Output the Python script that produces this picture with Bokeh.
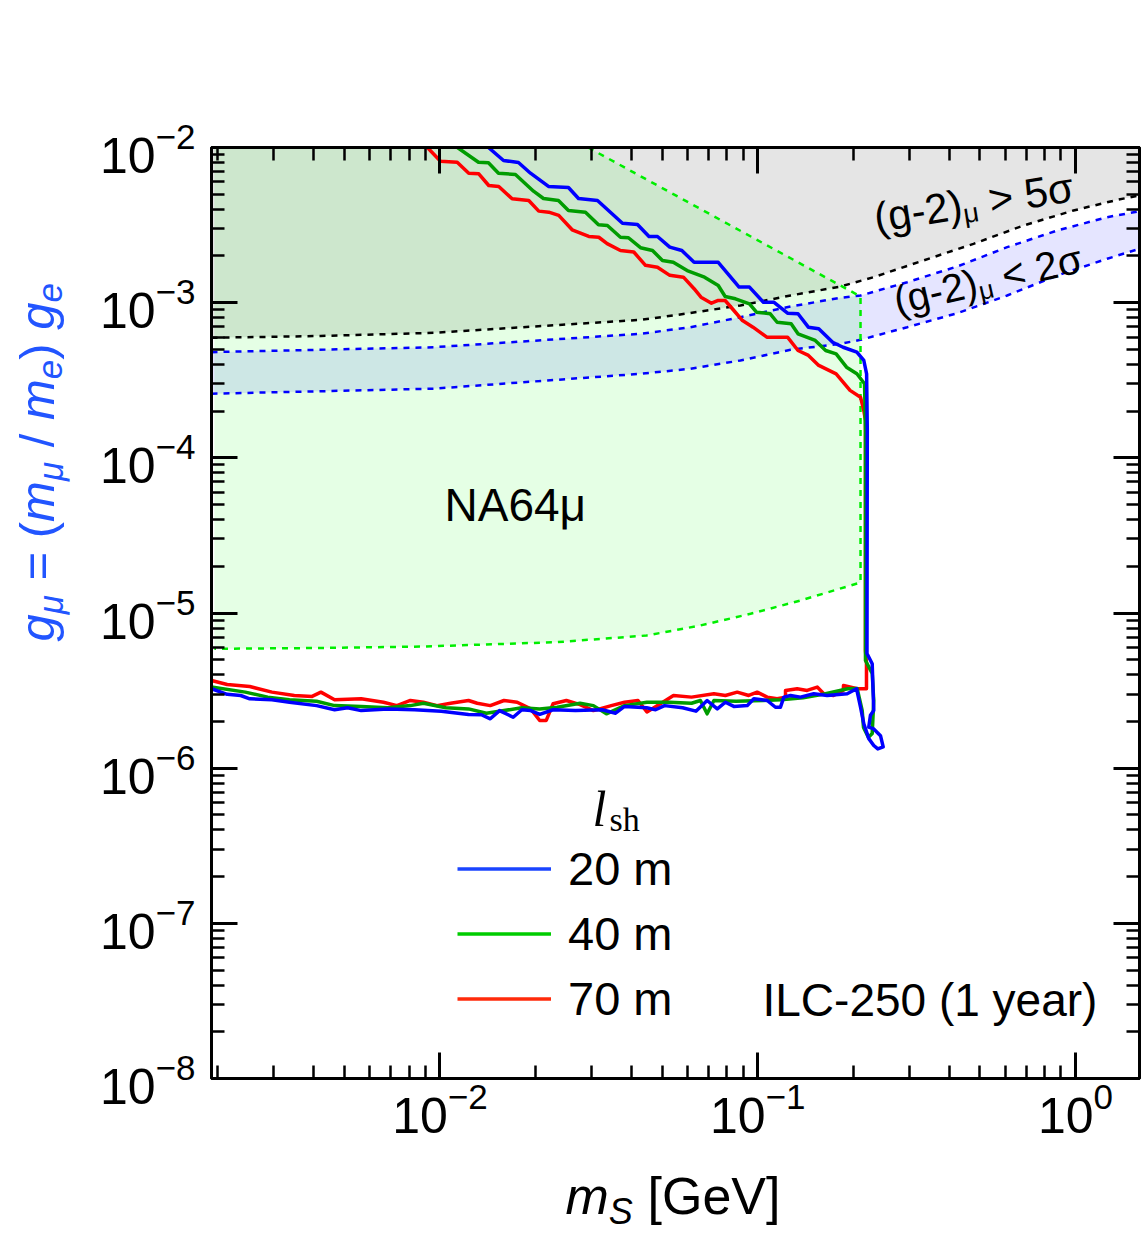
import math
from bokeh.plotting import figure
from bokeh.layouts import column, row
from bokeh.models import (Range1d, FixedTicker, LogAxis, LogTickFormatter,
                          CustomJSTickFormatter, Label, Legend, LegendItem)
from bokeh.embed import file_html
from bokeh.resources import INLINE

# ---------------- data ----------------
X_RANGE = (1.91e-3, 1.59)
Y_RANGE = (1e-8, 1e-2)
X_MAJOR = [1e-2, 1e-1, 1e0]
Y_MAJOR = [1e-8, 1e-7, 1e-6, 1e-5, 1e-4, 1e-3, 1e-2]
X_MINOR = [k * 10.0 ** e for e in (-3, -2, -1, 0) for k in range(2, 10)]
Y_MINOR = [k * 10.0 ** e for e in range(-9, -2) for k in range(2, 10)]

# (g-2)_mu > 5 sigma boundary
G2_5SIGMA_M = [1.91e-3, 4.21e-3, 9.54e-3, 4.28e-2, 5.43e-2, 8.82e-2, 0.1268, 0.1822,
               0.2313, 0.3323, 0.4775, 0.6863, 0.9856, 1.356, 1.59]
G2_5SIGMA_G = [5.94e-4, 6.10e-4, 6.39e-4, 7.75e-4, 8.27e-4, 9.59e-4, 1.112e-3, 1.271e-3,
               1.459e-3, 1.870e-3, 2.395e-3, 3.143e-3, 3.926e-3, 4.603e-3, 4.906e-3]

# (g-2)_mu < 2 sigma band
BAND_M = [1.91e-3, 9.54e-3, 4.28e-2, 6.14e-2, 8.82e-2, 0.1268, 0.1822, 0.2106,
          0.2954, 0.4243, 0.6095, 0.8757, 1.258, 1.59]
BAND_HI_G = [4.80e-4, 5.16e-4, 6.30e-4, 6.95e-4, 8.06e-4, 9.45e-4, 1.075e-3, 1.112e-3,
             1.355e-3, 1.710e-3, 2.278e-3, 2.918e-3, 3.555e-3, 3.885e-3]
BAND_LO_G = [2.59e-4, 2.79e-4, 3.48e-4, 3.75e-4, 4.24e-4, 4.97e-4, 5.43e-4, 5.76e-4,
             6.95e-4, 8.55e-4, 1.112e-3, 1.497e-3, 1.918e-3, 2.225e-3]

# NA64mu excluded region
NA64_M = [1.95e-3, 2.925e-2, 0.2106, 0.2106, 0.1363, 9.49e-2, 6.60e-2, 4.47e-2,
          2.34e-2, 8.87e-3, 4.21e-3, 1.95e-3]
NA64_G = [1e-2, 1e-2, 1.096e-3, 1.573e-5, 1.204e-5, 9.88e-6, 8.31e-6, 7.16e-6,
          6.49e-6, 6.08e-6, 5.95e-6, 5.88e-6]

# ILC-250 sensitivity contours, (m_S [GeV], g_mu)
BLUE_20M = [
    (1.421e-2, 1.0e-2), (1.585e-2, 8.25e-3), (1.766e-2, 8.00e-3), (1.927e-2, 6.83e-3),
    (2.195e-2, 5.61e-3), (2.537e-2, 5.52e-3), (2.729e-2, 4.69e-3), (3.131e-2, 4.55e-3),
    (3.752e-2, 3.25e-3), (4.184e-2, 3.19e-3), (4.548e-2, 2.67e-3), (4.836e-2, 2.67e-3),
    (5.287e-2, 2.28e-3), (5.770e-2, 2.17e-3), (6.305e-2, 1.82e-3), (7.512e-2, 1.82e-3),
    (8.737e-2, 1.26e-3), (9.419e-2, 1.26e-3), (0.1042, 1.007e-3), (0.1123, 1.007e-3),
    (0.1241, 8.55e-4), (0.1339, 8.48e-4), (0.1443, 6.95e-4), (0.1556, 6.79e-4),
    (0.1721, 5.56e-4), (0.1856, 5.16e-4), (0.2051, 4.80e-4), (0.2157, 4.24e-4),
    (0.2201, 3.48e-4), (0.2212, 1.50e-4), (0.2207, 5.48e-6), (0.2292, 4.71e-6),
    (0.2318, 2.35e-6), (0.2263, 2.19e-6), (0.2236, 1.84e-6), (0.2318, 1.79e-6),
    (0.2434, 1.62e-6), (0.2482, 1.37e-6), (0.2387, 1.33e-6), (0.2318, 1.40e-6),
    (0.2236, 1.55e-6), (0.2157, 1.93e-6), (0.2106, 2.47e-6), (0.2046, 3.25e-6),
    (0.1912, 3.02e-6), (0.1654, 2.94e-6), (0.1501, 3.02e-6), (0.1363, 2.87e-6),
    (0.1268, 2.94e-6), (0.1208, 2.87e-6), (0.1179, 2.47e-6), (0.1137, 2.47e-6),
    (0.1071, 2.73e-6), (9.72e-2, 2.80e-6), (9.27e-2, 2.53e-6), (8.41e-2, 2.50e-6),
    (7.91e-2, 2.66e-6), (7.46e-2, 2.41e-6), (6.93e-2, 2.73e-6), (6.39e-2, 2.33e-6),
    (5.80e-2, 2.45e-6), (5.09e-2, 2.53e-6), (4.77e-2, 2.38e-6), (4.47e-2, 2.45e-6),
    (3.81e-2, 2.50e-6), (3.57e-2, 2.26e-6), (3.24e-2, 2.38e-6), (2.67e-2, 2.35e-6),
    (2.27e-2, 2.38e-6), (2.06e-2, 2.22e-6), (1.93e-2, 2.35e-6), (1.81e-2, 2.38e-6),
    (1.70e-2, 2.13e-6), (1.54e-2, 2.35e-6), (1.44e-2, 2.08e-6), (1.35e-2, 2.21e-6),
    (1.23e-2, 2.22e-6), (1.01e-2, 2.33e-6), (8.31e-3, 2.38e-6), (6.86e-3, 2.41e-6),
    (5.65e-3, 2.35e-6), (5.12e-3, 2.45e-6), (4.66e-3, 2.38e-6), (4.09e-3, 2.53e-6),
    (3.36e-3, 2.66e-6), (2.96e-3, 2.76e-6), (2.52e-3, 2.80e-6), (2.36e-3, 2.94e-6),
    (2.14e-3, 2.99e-6), (1.91e-3, 3.25e-6)]

GREEN_40M = [
    (1.135e-2, 1.0e-2), (1.322e-2, 8.04e-3), (1.421e-2, 7.97e-3), (1.528e-2, 6.83e-3),
    (1.728e-2, 6.70e-3), (1.970e-2, 5.23e-3), (2.117e-2, 4.69e-3), (2.360e-2, 4.55e-3),
    (2.537e-2, 3.93e-3), (2.870e-2, 3.83e-3), (3.154e-2, 3.18e-3), (3.365e-2, 3.14e-3),
    (3.698e-2, 2.64e-3), (3.919e-2, 2.62e-3), (4.276e-2, 2.26e-3), (4.665e-2, 2.17e-3),
    (5.013e-2, 1.87e-3), (5.423e-2, 1.82e-3), (5.995e-2, 1.61e-3), (6.800e-2, 1.46e-3),
    (7.512e-2, 1.29e-3), (7.897e-2, 1.096e-3), (8.511e-2, 1.059e-3), (9.419e-2, 9.83e-4),
    (9.910e-2, 8.68e-4), (0.1095, 8.48e-4), (0.1151, 7.48e-4), (0.1274, 7.31e-4),
    (0.1339, 6.30e-4), (0.1517, 5.71e-4), (0.1636, 4.92e-4), (0.1765, 4.68e-4),
    (0.1903, 3.84e-4), (0.2051, 3.48e-4), (0.2168, 3.00e-4), (0.2183, 1.50e-4),
    (0.2183, 4.94e-6), (0.2292, 4.08e-6), (0.2318, 2.73e-6), (0.2292, 1.67e-6),
    (0.2231, 1.58e-6), (0.2152, 1.83e-6), (0.2132, 2.35e-6), (0.2056, 3.26e-6),
    (0.1920, 3.25e-6), (0.1634, 3.02e-6), (0.1390, 2.84e-6), (0.1183, 2.76e-6),
    (0.1039, 2.73e-6), (8.55e-2, 2.70e-6), (7.28e-2, 2.73e-6), (6.93e-2, 2.24e-6),
    (6.60e-2, 2.73e-6), (6.19e-2, 2.62e-6), (5.27e-2, 2.66e-6), (4.48e-2, 2.66e-6),
    (3.81e-2, 2.53e-6), (3.34e-2, 2.24e-6), (3.04e-2, 2.53e-6), (2.76e-2, 2.62e-6),
    (2.34e-2, 2.47e-6), (2.06e-2, 2.41e-6), (1.81e-2, 2.45e-6), (1.59e-2, 2.35e-6),
    (1.40e-2, 2.26e-6), (1.23e-2, 2.41e-6), (1.044e-2, 2.45e-6), (8.87e-3, 2.62e-6),
    (8.07e-3, 2.53e-6), (6.86e-3, 2.45e-6), (5.65e-3, 2.50e-6), (4.66e-3, 2.53e-6),
    (4.09e-3, 2.70e-6), (3.36e-3, 2.76e-6), (2.87e-3, 2.87e-6), (2.44e-3, 3.09e-6),
    (1.91e-3, 3.33e-6)]

RED_70M = [
    (9.13e-3, 1.0e-2), (1.004e-2, 8.16e-3), (1.133e-2, 8.04e-3), (1.232e-2, 6.83e-3),
    (1.325e-2, 6.77e-3), (1.424e-2, 5.69e-3), (1.531e-2, 5.61e-3), (1.687e-2, 4.67e-3),
    (1.903e-2, 4.55e-3), (2.046e-2, 3.89e-3), (2.200e-2, 3.83e-3), (2.365e-2, 3.65e-3),
    (2.606e-2, 2.95e-3), (2.940e-2, 2.67e-3), (3.161e-2, 2.64e-3), (3.358e-2, 2.40e-3),
    (3.698e-2, 2.17e-3), (4.073e-2, 2.12e-3), (4.434e-2, 1.74e-3), (4.836e-2, 1.69e-3),
    (5.287e-2, 1.50e-3), (5.837e-2, 1.46e-3), (6.305e-2, 1.23e-3), (6.629e-2, 1.085e-3),
    (7.151e-2, 9.92e-4), (7.512e-2, 1.033e-3), (7.897e-2, 1.033e-3), (8.412e-2, 8.90e-4),
    (8.954e-2, 7.67e-4), (9.663e-2, 6.95e-4), (0.1068, 5.99e-4), (0.1241, 5.99e-4),
    (0.1339, 4.92e-4), (0.1444, 4.57e-4), (0.1556, 3.94e-4), (0.1765, 3.48e-4),
    (0.1952, 2.72e-4), (0.2106, 2.46e-4), (0.2157, 2.02e-4), (0.2183, 1.74e-4),
    (0.2183, 5.73e-6), (0.2199, 4.73e-6), (0.2199, 3.25e-6), (0.2056, 3.25e-6),
    (0.1862, 3.41e-6), (0.1858, 3.17e-6), (0.1731, 2.94e-6), (0.1614, 3.02e-6),
    (0.1539, 3.33e-6), (0.1430, 3.17e-6), (0.1331, 3.25e-6), (0.1223, 3.17e-6),
    (0.1223, 2.87e-6), (0.1151, 2.80e-6), (0.1071, 2.87e-6), (9.96e-2, 3.09e-6),
    (9.37e-2, 2.94e-6), (8.62e-2, 3.09e-6), (7.91e-2, 2.94e-6), (7.28e-2, 3.02e-6),
    (6.19e-2, 2.87e-6), (5.43e-2, 2.94e-6), (4.94e-2, 2.60e-6), (4.48e-2, 2.30e-6),
    (4.20e-2, 2.73e-6), (3.81e-2, 2.66e-6), (3.46e-2, 2.53e-6), (3.04e-2, 2.35e-6),
    (2.76e-2, 2.57e-6), (2.50e-2, 2.73e-6), (2.27e-2, 2.60e-6), (2.16e-2, 2.03e-6),
    (2.06e-2, 2.03e-6), (1.93e-2, 2.41e-6), (1.75e-2, 2.66e-6), (1.59e-2, 2.73e-6),
    (1.44e-2, 2.53e-6), (1.31e-2, 2.62e-6), (1.23e-2, 2.73e-6), (1.08e-2, 2.62e-6),
    (9.79e-3, 2.53e-6), (8.87e-3, 2.66e-6), (8.07e-3, 2.73e-6), (7.32e-3, 2.53e-6),
    (6.64e-3, 2.66e-6), (5.65e-3, 2.80e-6), (4.66e-3, 2.76e-6), (4.22e-3, 3.09e-6),
    (3.96e-3, 2.90e-6), (3.48e-3, 2.94e-6), (2.96e-3, 3.09e-6), (2.52e-3, 3.36e-6),
    (2.14e-3, 3.46e-6), (1.91e-3, 3.67e-6)]

LEGEND_LABELS = ["20 m", "40 m", "70 m"]
LINE_COLORS = ["#0000ff", "#009c00", "#ff0000"]
LEGEND_COLORS = ["#1a44ff", "#00cc00", "#ff2a0a"]

# ---------------- layout geometry ----------------
FONT = "Liberation Sans"
SERIF = "Liberation Serif"
LEFT_W = 95          # strip holding the y-axis title
TOP_H = 1160         # height of the row with the main plot
MAIN_W = 1143 - LEFT_W
BOTTOM_H = 1233 - TOP_H
FRAME_BOTTOM = 1078  # page y of the plot frame's bottom edge

p = figure(width=MAIN_W, height=TOP_H, x_axis_type="log", y_axis_type="log",
           x_range=Range1d(*X_RANGE), y_range=Range1d(*Y_RANGE),
           output_backend="svg", toolbar_location=None,
           min_border_left=211 - LEFT_W, min_border_right=4, min_border_top=147,
           min_border_bottom=TOP_H - FRAME_BOTTOM)
p.grid.visible = False
p.outline_line_color = "black"
p.outline_line_width = 3
p.background_fill_color = "white"
p.border_fill_color = "white"


def style_axis(ax, ticks, minor, show_labels, standoff):
    ax.ticker = FixedTicker(ticks=ticks, minor_ticks=minor)
    ax.axis_line_color = "black"
    ax.axis_line_width = 3
    ax.major_tick_line_width = 3
    ax.minor_tick_line_width = 2.5
    ax.major_tick_in = 26
    ax.major_tick_out = 0
    ax.minor_tick_in = 13
    ax.minor_tick_out = 0
    if show_labels:
        ax.formatter = LogTickFormatter()
        ax.major_label_text_font = FONT
        ax.major_label_text_font_size = "50px"
        ax.major_label_text_color = "black"
        ax.major_label_standoff = standoff
    else:
        ax.formatter = CustomJSTickFormatter(code="return ''")
        ax.major_label_text_font_size = "1px"
        ax.major_label_standoff = 0


style_axis(p.xaxis[0], X_MAJOR, X_MINOR, True, 3)
style_axis(p.yaxis[0], Y_MAJOR, Y_MINOR, True, 16)
right_ax = LogAxis()
style_axis(right_ax, Y_MAJOR, Y_MINOR, False, 0)
p.add_layout(right_ax, "right")
top_ax = LogAxis()
style_axis(top_ax, X_MAJOR, X_MINOR, False, 0)
p.add_layout(top_ax, "above")

# regions
p.varea(x=G2_5SIGMA_M, y1=G2_5SIGMA_G, y2=Y_RANGE[1], fill_color="black", fill_alpha=0.1)
p.varea(x=BAND_M, y1=BAND_LO_G, y2=BAND_HI_G, fill_color="blue", fill_alpha=0.1)
p.patch(NA64_M, NA64_G, fill_color="#00ff00", fill_alpha=0.1, line_color=None)

# dashed boundaries
p.line(G2_5SIGMA_M, G2_5SIGMA_G, line_color="black", line_width=2.5, line_dash="6 6")
p.line(BAND_M, BAND_HI_G, line_color="#0000ff", line_width=2.5, line_dash="6 6")
p.line(BAND_M, BAND_LO_G, line_color="#0000ff", line_width=2.5, line_dash="6 6")
p.line(NA64_M[1:], NA64_G[1:], line_color="#00ee00", line_width=2.5, line_dash="6 6")

# sensitivity contours (70 m, 40 m, 20 m so that blue is on top)
contours = [BLUE_20M, GREEN_40M, RED_70M]
for data, col in zip(contours[::-1], LINE_COLORS[::-1]):
    p.line([a for a, b in data], [b for a, b in data], line_color=col, line_width=3.5,
           line_join="round")

# legend (hidden copies carry the legend colours)
leg_renderers = [p.line([a for a, b in data], [b for a, b in data], line_color=c,
                        line_width=3.5, visible=False)
                 for data, c in zip(contours, LEGEND_COLORS)]
legend = Legend(items=[LegendItem(label=lab, renderers=[r]) for lab, r in zip(LEGEND_LABELS, leg_renderers)],
                location=(246, 47), orientation="vertical", padding=0, margin=0, spacing=0,
                glyph_width=94, glyph_height=65, label_height=65, label_standoff=17,
                label_text_font=FONT, label_text_font_size="47px", label_text_color="black",
                border_line_alpha=0, background_fill_alpha=0)
p.add_layout(legend)


def blank_fig(w, h):
    f = figure(width=w, height=h, x_range=Range1d(0, 1), y_range=Range1d(0, 1),
               output_backend="svg", toolbar_location=None, min_border=0,
               x_axis_location=None, y_axis_location=None)
    f.grid.visible = False
    f.outline_line_color = None
    f.background_fill_color = "white"
    f.border_fill_color = "white"
    return f


ylab = blank_fig(LEFT_W, TOP_H)   # its frame is aligned with the main frame by the row
xlab = blank_fig(1143, BOTTOM_H)

# ---------------- text ----------------
ADV = {'g': .556, 'μ': .576, ' ': .278, '=': .584, '(': .333, ')': .333, 'm': .833, '/': .278,
       'e': .556, '-': .333, '2': .556, '5': .556, '>': .584, '<': .584, 'σ': .617, 'S': .667,
       '[': .278, ']': .278, 'G': .778, 'V': .667}
MID = {FONT: 0.3465, SERIF: 0.3375}


def adv(txt, size):
    return sum(ADV.get(ch, 0.556) for ch in txt) * size


def put(fig, txt, x, y, size, style="normal", font=FONT, color="black", angle=0.0, align="left"):
    """(x, y): baseline anchor in frame pixels (y up)."""
    m = MID[font] * size
    fig.add_layout(Label(x=x - m * math.sin(angle), y=y + m * math.cos(angle),
                         x_units="screen", y_units="screen", text=txt,
                         text_font=font, text_font_size=f"{size}px", text_font_style=style,
                         text_color=color, angle=angle, text_align=align,
                         text_baseline="middle"))


def pieces_along(fig, anchor, theta, pieces, color="black"):
    ux, uy = math.cos(theta), math.sin(theta)
    nx, ny = -math.sin(theta), math.cos(theta)
    s = 0.0
    for txt, size, style, shift in pieces:
        core = txt.strip(" ")
        lead = len(txt) - len(txt.lstrip(" "))
        trail = len(txt) - len(txt.rstrip(" "))
        s += lead * ADV[" "] * size
        put(fig, core, anchor[0] + s * ux + shift * nx, anchor[1] + s * uy + shift * ny,
            size, style, color=color, angle=theta)
        s += adv(core, size) + trail * ADV[" "] * size


# y-axis title: g_mu = (m_mu / m_e) g_e   (rotated, blue)
YL, YS = 49, 35
pieces_along(ylab, (53, FRAME_BOTTOM - 641), math.pi / 2, [
    ("g", YL, "italic", 0), ("μ", YS, "italic", -9), (" = (", YL, "normal", 0),
    ("m", YL, "italic", 0), ("μ", YS, "italic", -9), (" / ", YL, "normal", 0),
    ("m", YL, "italic", 0), ("e", YS, "italic", -9), (") ", YL, "normal", 0),
    ("g", YL, "italic", 0), ("e", YS, "italic", -9)], color="#2255ff")

# x-axis title: m_S [GeV]
put(xlab, "m", 565, 1233 - 1214, 52, "italic")
put(xlab, "S", 565 + adv("m", 52), 1233 - 1223, 36, "italic")
put(xlab, "[GeV]", 780, 1233 - 1214, 52, "normal", align="right")

# (g-2) labels
pieces_along(p, (665, 846), math.radians(9), [
    ("(g-2)", 42, "normal", 0), ("μ", 27, "normal", -5), (" > 5σ", 42, "normal", 0)])
pieces_along(p, (686, 764), math.radians(13), [
    ("(g-2)", 40, "normal", 0), ("μ", 26, "normal", -5), (" < 2σ", 40, "normal", 0)])

# region / experiment labels
put(p, "NA64μ", 233, 558, 46)
put(p, "ILC-250 (1 year)", 551, 63, 46)

# legend title l_sh
put(p, "l", 381, 253, 50, "italic", font=SERIF)
put(p, "sh", 398, 248, 34, "normal", font=SERIF)

layout = column(row(ylab, p), xlab)
open("out.html", "w").write(file_html(layout, INLINE))
